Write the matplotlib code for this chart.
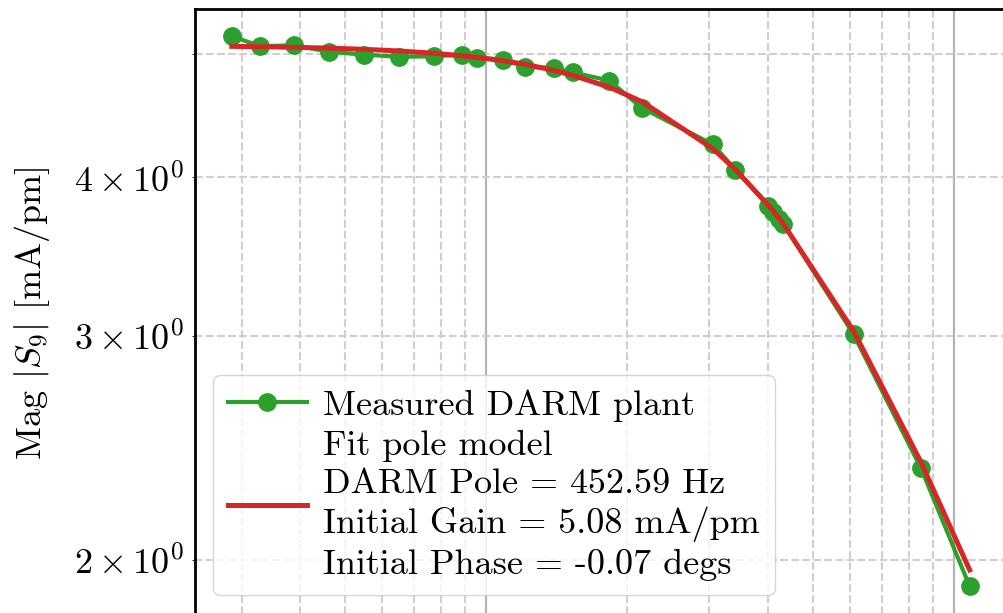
"""
DARM-anturifunktion magnitudi: mitattu plantti vs. sovitettu napamalli.
"""

import numpy as np
import matplotlib
matplotlib.use("Agg")
import matplotlib.pyplot as plt

# ---------------------------------------------------------------------------
# Data (luettu kuvasta)
# ---------------------------------------------------------------------------
freq_hz = [28.6, 32.9, 38.9, 46.2, 54.8, 65.2, 77.2, 89.0, 95.5, 108.9,
           121.2, 139.3, 153.2, 183.2, 215.3, 305.2, 340.7, 400.9, 410.9,
           423.2, 431.5, 610.0, 850.1, 1079.8]

meas_mag = [5.164, 5.071, 5.080, 5.020, 4.995, 4.975, 4.980, 4.995, 4.966,
            4.950, 4.885, 4.876, 4.837, 4.765, 4.535, 4.245, 4.056, 3.800,
            3.759, 3.711, 3.677, 3.009, 2.361, 1.907]

model_mag = [5.070, 5.067, 5.061, 5.054, 5.043, 5.028, 5.007, 4.984, 4.970,
             4.939, 4.908, 4.855, 4.811, 4.709, 4.587, 4.212, 4.058, 3.802,
             3.761, 3.711, 3.677, 3.027, 2.387, 1.964]

meas_label = "Measured DARM plant"
model_label = ("Fit pole model\n"
               "DARM Pole = 452.59 Hz\n"
               "Initial Gain = 5.08 mA/pm\n"
               "Initial Phase = -0.07 degs")

# ---------------------------------------------------------------------------
# Tyyli
# ---------------------------------------------------------------------------
plt.rcParams["font.family"] = "serif"
plt.rcParams["font.serif"] = ["cmr10"]
plt.rcParams["mathtext.fontset"] = "cm"
plt.rcParams["axes.formatter.use_mathtext"] = True
plt.rcParams["axes.unicode_minus"] = False
plt.rcParams["font.size"] = 26

W, H = 1004, 613
fig = plt.figure(figsize=(W / 100, H / 100), dpi=100)
ax = fig.add_axes([195 / W, 1 - 613.8 / H, (1006.4 - 195) / W, (613.8 - 8.5) / H])

ax.plot(freq_hz, meas_mag, "o-", color="tab:green", lw=3, ms=12.5,
        label=meas_label, zorder=3)
ax.plot(freq_hz, model_mag, "-", color="tab:red", lw=3.6,
        label=model_label, zorder=4)

ax.set_xscale("log")
ax.set_yscale("log")
ax.set_xlim(23.86, 1294)
ax.set_ylim(1.814, 5.43)

ax.grid(True, which="major", color="#b5b5b5", ls="-", lw=1.6)
ax.grid(True, which="minor", color="#cfcfcf", ls="--", lw=1.5)
ax.set_axisbelow(True)
# x-akselin numerot jäävät kuvan alareunan ulkopuolelle
ax.tick_params(axis="x", labelbottom=False)
ax.tick_params(axis="y", which="both", pad=5.5)

for sp in ax.spines.values():
    sp.set_linewidth(2)

ax.set_ylabel(r"Mag $|S_9|$ [mA/pm]")
ax.yaxis.set_label_coords(-0.176, 0.497)

leg = ax.legend(loc="lower left", bbox_to_anchor=(213.3 / W, 1 - 595 / H),
                bbox_transform=fig.transFigure, borderaxespad=0,
                handlelength=2.2, handletextpad=0.45, labelspacing=0.22,
                borderpad=0.4)
for t in leg.get_texts():
    t.set_linespacing(1.25)

fig.savefig("out.png", dpi=100)
